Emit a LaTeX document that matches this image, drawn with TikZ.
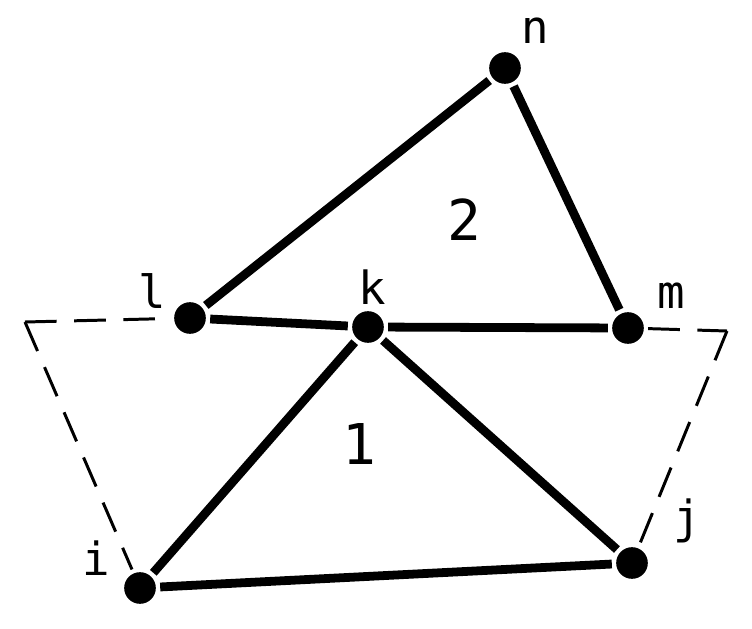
\documentclass[tikz,border=0pt]{standalone}
\usepackage{fontspec}
\setmainfont{DejaVu Sans Mono}
\usepackage{tikz}
\usetikzlibrary{positioning,calc}
\tikzstyle{vertex}=[fill=black,circle,minimum size=18pt,inner sep=0pt]
\tikzstyle{lab}=[font=\fontsize{26}{30}\selectfont,inner sep=0pt]
\tikzstyle{num}=[font=\fontsize{32}{36}\selectfont,inner sep=0pt]
\tikzstyle{border}=[line width=1.7pt,dash pattern=on 18pt off 10pt]

\begin{document}
\begin{tikzpicture}[x=0.02cm,y=-0.02cm,line width=5pt]
\useasboundingbox (0,0) rectangle (752,629);
% vertices
\node [vertex] (n) at (505,68) {};
\node [vertex] (l) at (190,318) {};
\node [vertex] (k) at (368,327) {};
\node [vertex] (m) at (628,328) {};
\node [vertex] (i) at (140,588) {};
\node [vertex] (j) at (632,563) {};
\coordinate (cl) at (25,322);
\coordinate (cr) at (727,331);
% labels
\node [lab] (ln) at (535,31) {n};
\node [lab] (ll) at (152,291) {l};
\node [lab] (lk) at (372,287) {k};
\node [lab] (lm) at (671,296) {m};
\node [lab] (li) at (96,558) {i};
\node [lab] (lj) at (687,521) {j};
\node [num] (t2) at (464,220) {2};
\node [num] (t1) at (359,444) {1};
% elements
\draw (l) -- (n) -- (m) -- (k) -- (l);
\draw (i) -- (k) -- (j) -- (i);
% dashed outline
\draw [border] (cl) -- (l);
\draw [border] (m) -- (cr);
\draw [border] (cl) -- (i);
\draw [border] (cr) -- (j);
\end{tikzpicture}
\end{document}
